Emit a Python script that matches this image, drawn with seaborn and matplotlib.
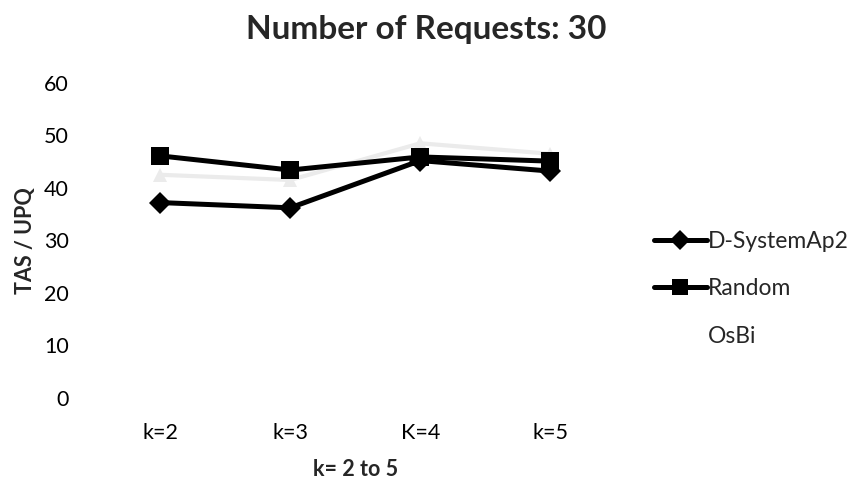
import matplotlib
matplotlib.use("Agg")
import matplotlib.pyplot as plt
import seaborn as sns
import pandas as pd
from matplotlib.lines import Line2D

categories = ["k=2", "k=3", "K=4", "k=5"]
dsystem = [37.2, 36.2, 45.2, 43.2]
random_vals = [46.1, 43.4, 45.9, 45.1]
osbi = [42.5, 41.5, 48.5, 46.5]

sns.set_theme(style="white")
plt.rcParams["font.family"] = ["Lato", "DejaVu Sans"]

df = pd.DataFrame({
    "k": categories * 3,
    "value": dsystem + random_vals + osbi,
    "series": ["D-SystemAp2"] * 4 + ["Random"] * 4 + ["OsBi"] * 4,
})

fig = plt.figure(figsize=(8.57, 4.88), dpi=100)
ax = fig.add_axes([0.111, 0.185, 0.607, 0.645])

sns.lineplot(data=df[df.series == "OsBi"], x="k", y="value", ax=ax, color="#ebebeb",
             lw=3, marker="^", markersize=10, markeredgewidth=0, sort=False, legend=False)
sns.lineplot(data=df[df.series == "Random"], x="k", y="value", ax=ax, color="black",
             lw=3.6, marker="s", markersize=13.5, markeredgewidth=0, sort=False, legend=False)
sns.lineplot(data=df[df.series == "D-SystemAp2"], x="k", y="value", ax=ax, color="black",
             lw=3.6, marker="D", markersize=11.5, markeredgewidth=0, sort=False, legend=False)

ax.set_xlim(-0.5, 3.5)
ax.set_ylim(0, 60)
ax.set_yticks(range(0, 61, 10))
for s in ax.spines.values():
    s.set_visible(False)
ax.tick_params(axis="both", length=0, labelsize=15.5, colors="black")
ax.tick_params(axis="x", pad=18)
ax.tick_params(axis="y", pad=19)
ax.set_xlabel("k= 2 to 5", fontsize=15.5, fontweight="bold", labelpad=12)
ax.set_ylabel("TAS / UPQ", fontsize=15.5, fontweight="bold", labelpad=6)
fig.suptitle("Number of Requests: 30", fontsize=24, fontweight="bold", x=0.497, y=0.97)

handles = [
    Line2D([], [], color="black", lw=3.6, marker="D", markersize=10, markeredgewidth=0),
    Line2D([], [], color="black", lw=3.6, marker="s", markersize=12, markeredgewidth=0),
    Line2D([], [], color="white", lw=3),
]
fig.legend(handles, ["D-SystemAp2", "Random", "OsBi"], loc="center left",
           bbox_to_anchor=(0.739, 0.408), frameon=False, fontsize=16.5,
           handlelength=2.3, handletextpad=0.05, labelspacing=1.15)

fig.savefig("out.png", dpi=100)
